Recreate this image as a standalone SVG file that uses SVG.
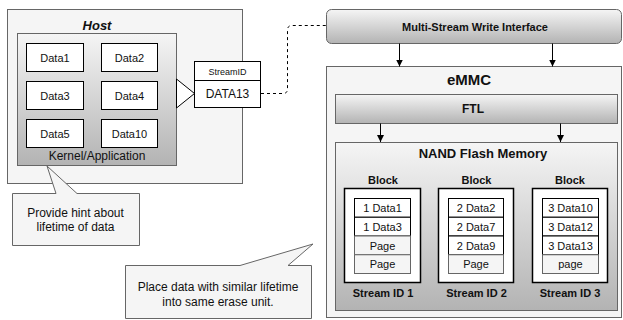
<svg xmlns="http://www.w3.org/2000/svg" width="623" height="320" viewBox="0 0 623 320">
<defs>
<linearGradient id="g" x1="0" y1="0" x2="0" y2="1">
<stop offset="0" stop-color="#f5f5f5"/>
<stop offset="1" stop-color="#b3b3b3"/>
</linearGradient>
<marker id="ah" markerWidth="8" markerHeight="8" refX="7" refY="4" orient="auto" markerUnits="userSpaceOnUse">
<path d="M0,0.5 L7,4 L0,7.5 Z" fill="#000"/>
</marker>
<style>
text{font-family:"Liberation Sans",Arial,sans-serif;fill:#111;text-anchor:middle;dominant-baseline:central}
.flat{fill:#f5f5f5;stroke:#666;stroke-width:1}
.grad{fill:url(#g);stroke:#666;stroke-width:1}
.wb{fill:#fff;stroke:#000;stroke-width:1}
.blk{fill:#fff;stroke:#000;stroke-width:1.5}
.pg{fill:#f5f5f5;stroke:#666;stroke-width:1}
.b{font-weight:bold}
.t11{font-size:11px}
.t12{font-size:12px}
.arr{stroke:#000;stroke-width:1;fill:none;marker-end:url(#ah)}
</style>
</defs>

<g id="host">
<rect class="flat" x="7.5" y="9.5" width="235" height="174"/>
<text x="97" y="25" class="b" style="font-size:13px;font-style:italic">Host</text>
</g>
<g id="kernel">
<rect class="grad" x="17.5" y="33.5" width="159" height="132"/>
<text x="97" y="156" class="t12">Kernel/Application</text>
</g>
<g id="data1"><rect class="wb" x="26.5" y="43.5" width="57" height="28"/><text x="55" y="57.5" class="t11">Data1</text></g>
<g id="data2"><rect class="wb" x="101.5" y="43.5" width="56" height="28"/><text x="129.5" y="57.5" class="t11">Data2</text></g>
<g id="data3"><rect class="wb" x="26.5" y="81.5" width="57" height="28"/><text x="55" y="95.5" class="t11">Data3</text></g>
<g id="data4"><rect class="wb" x="101.5" y="81.5" width="56" height="28"/><text x="129.5" y="95.5" class="t11">Data4</text></g>
<g id="data5"><rect class="wb" x="26.5" y="119.5" width="57" height="28"/><text x="55" y="133.5" class="t11">Data5</text></g>
<g id="data10"><rect class="wb" x="101.5" y="119.5" width="56" height="28"/><text x="129.5" y="133.5" class="t11">Data10</text></g>

<g id="streamid">
<path d="M176.5,79 L194.5,93.5 L176.5,108 Z" fill="#fff" stroke="#000"/>
<rect class="wb" x="194.5" y="61.5" width="66" height="46"/>
<line x1="194.5" y1="80.5" x2="260.5" y2="80.5" stroke="#000"/>
<text x="227.5" y="71.5" style="font-size:9px">StreamID</text>
<text x="227.5" y="94" class="t12">DATA13</text>
</g>

<g id="multistream">
<rect class="grad" x="326.5" y="9.5" width="295" height="34" rx="5"/>
<text x="475" y="26.5" class="b t11">Multi-Stream Write Interface</text>
</g>

<g id="emmc">
<rect class="flat" x="326.5" y="66.5" width="295" height="251"/>
<text x="469" y="79.5" class="b" style="font-size:15px">eMMC</text>
</g>
<g id="ftl">
<rect class="grad" x="335.5" y="94.5" width="282" height="29"/>
<text x="473" y="108.5" class="b t12">FTL</text>
</g>
<g id="nand">
<rect class="grad" x="335.5" y="142.5" width="282" height="168"/>
<text x="483" y="153" class="b" style="font-size:13px">NAND Flash Memory</text>
</g>

<g id="block1">
<text x="383" y="179.5" class="b t11">Block</text>
<rect class="blk" x="344.5" y="188.5" width="76" height="94"/>
<rect class="wb" x="354.5" y="198.5" width="56" height="18.75"/>
<rect class="wb" x="354.5" y="217.25" width="56" height="18.75"/>
<rect class="pg" x="354.5" y="236" width="56" height="18.75"/>
<rect class="pg" x="354.5" y="254.75" width="56" height="18.75"/>
<text x="382.5" y="208" class="t11">1 Data1</text>
<text x="382.5" y="226.8" class="t11">1 Data3</text>
<text x="382.5" y="245.5" class="t11">Page</text>
<text x="382.5" y="264.2" class="t11">Page</text>
<text x="383" y="293" class="b t11">Stream ID  1</text>
</g>
<g id="block2">
<text x="476.5" y="179.5" class="b t11">Block</text>
<rect class="blk" x="438.5" y="188.5" width="75" height="94"/>
<rect class="wb" x="448.5" y="198.5" width="55" height="18.75"/>
<rect class="wb" x="448.5" y="217.25" width="55" height="18.75"/>
<rect class="wb" x="448.5" y="236" width="55" height="18.75"/>
<rect class="pg" x="448.5" y="254.75" width="55" height="18.75"/>
<text x="476" y="208" class="t11">2 Data2</text>
<text x="476" y="226.8" class="t11">2 Data7</text>
<text x="476" y="245.5" class="t11">2 Data9</text>
<text x="476" y="264.2" class="t11">Page</text>
<text x="476.5" y="293" class="b t11">Stream ID  2</text>
</g>
<g id="block3">
<text x="570" y="179.5" class="b t11">Block</text>
<rect class="blk" x="532.5" y="188.5" width="75" height="94"/>
<rect class="wb" x="542.5" y="198.5" width="56" height="18.75"/>
<rect class="wb" x="542.5" y="217.25" width="56" height="18.75"/>
<rect class="wb" x="542.5" y="236" width="56" height="18.75"/>
<rect class="pg" x="542.5" y="254.75" width="56" height="18.75"/>
<text x="570.5" y="208" class="t11">3 Data10</text>
<text x="570.5" y="226.8" class="t11">3 Data12</text>
<text x="570.5" y="245.5" class="t11">3 Data13</text>
<text x="570.5" y="264.2" class="t11">page</text>
<text x="570" y="293" class="b t11">Stream ID  3</text>
</g>

<g id="callout1">
<path class="flat" d="M12.5,193.5 L56,193.5 L47,166 L77,193.5 L139.5,193.5 L139.5,245.5 L12.5,245.5 Z"/>
<text x="75.5" y="212.5" class="t12">Provide hint about</text>
<text x="75.5" y="227" class="t12">lifetime of data</text>
</g>
<g id="callout2">
<path class="flat" d="M125.5,265.5 L240,265.5 L313,244 L288,265.5 L311.5,265.5 L311.5,318.5 L125.5,318.5 Z"/>
<text x="218" y="287" class="t12">Place data with similar lifetime</text>
<text x="218" y="302" class="t12">into same erase unit.</text>
</g>

<g id="connectors">
<path d="M261,93.5 L283,93.5 Q287.5,93.5 287.5,89 L287.5,30 Q287.5,25.5 292,25.5 L326,25.5" fill="none" stroke="#000" stroke-dasharray="3 3"/>
<line class="arr" x1="399.5" y1="43.5" x2="399.5" y2="66.5"/>
<line class="arr" x1="552.5" y1="43.5" x2="552.5" y2="66.5"/>
<line class="arr" x1="380.5" y1="123.5" x2="380.5" y2="142"/>
<line class="arr" x1="560.5" y1="123.5" x2="560.5" y2="142"/>
</g>
</svg>
